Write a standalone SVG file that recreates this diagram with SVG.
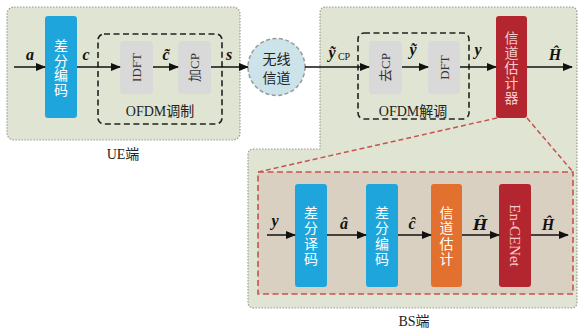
<svg xmlns="http://www.w3.org/2000/svg" width="579" height="330" viewBox="0 0 579 330">
<defs>
<marker id="ah" markerWidth="10" markerHeight="8" refX="9" refY="4" orient="auto" markerUnits="userSpaceOnUse">
<path d="M0,0 L10,4 L0,8 Z" fill="#111"/>
</marker>
<style>
.region{fill:#dfe5d2;stroke:#9a9a9a;stroke-width:1.2;stroke-dasharray:1.5,1.5}
.ofdm{fill:none;stroke:#222;stroke-width:1.6;stroke-dasharray:6,3.5}
.gray{fill:#d9d9d9}
.blue{fill:#1ea6dc}
.red{fill:#b3262f}
.orange{fill:#e2702e}
.arr{stroke:#111;stroke-width:1.5;fill:none;marker-end:url(#ah)}
.lbl{font-family:"Liberation Serif","Noto Sans CJK SC",serif;font-weight:bold;font-style:italic;font-size:16px;fill:#111;text-anchor:middle}
.cn{font-family:"Liberation Serif","Noto Sans CJK SC",serif;font-size:14px;text-anchor:middle}
.w{fill:#fff}
.pk{fill:#f5cccc}
.blk{fill:#222}
.rot{font-family:"Liberation Serif","Noto Sans CJK SC",serif;font-size:13px;text-anchor:middle;dominant-baseline:central;fill:#333}
.rd{stroke:#c9524f;stroke-width:1.5;stroke-dasharray:5,3;fill:none}
</style>
</defs>

<!-- regions -->
<g id="ue-region">
<rect class="region" x="7" y="7" width="233" height="133" rx="7"/>
<text class="cn blk" x="123" y="159">UE端</text>
</g>
<g id="bs-region">
<path class="region" d="M326,7 H571 Q577,7 577,13 V302 Q577,308 571,308 H254 Q248,308 248,302 V155 Q248,149 254,149 H320 V13 Q320,7 326,7 Z"/>
<text class="cn blk" x="414" y="326">BS端</text>
</g>

<!-- zoom lines and inner box -->
<g id="zoom-lines">
<line class="rd" x1="497" y1="118" x2="258" y2="172"/>
<line class="rd" x1="527" y1="118" x2="573" y2="172"/>
</g>
<g id="bs-detail">
<rect x="258" y="172" width="315" height="122" fill="#d9d0c1" stroke="#c9524f" stroke-width="1.6" stroke-dasharray="6,3.5"/>
</g>

<!-- OFDM dashed boxes -->
<g id="ofdm-mod">
<rect class="ofdm" x="98" y="34" width="124" height="90" rx="6"/>
<text class="cn blk" x="160" y="116" font-size="13">OFDM调制</text>
</g>
<g id="ofdm-demod">
<rect class="ofdm" x="358" y="33" width="111" height="86" rx="6"/>
<text class="cn blk" x="413" y="116" font-size="13">OFDM解调</text>
</g>

<!-- UE nodes -->
<g id="diff-enc-ue">
<rect class="blue" x="45" y="16" width="32" height="102" rx="3"/>
<text class="cn w" x="61" y="51">差</text>
<text class="cn w" x="61" y="65.5">分</text>
<text class="cn w" x="61" y="80">编</text>
<text class="cn w" x="61" y="94.5">码</text>
</g>
<g id="idft">
<rect class="gray" x="120" y="41" width="33" height="53" rx="4"/>
<text class="rot" transform="translate(136.5,67.5) rotate(-90)">IDFT</text>
</g>
<g id="add-cp">
<rect class="gray" x="178" y="41" width="33" height="53" rx="4"/>
<text class="rot" transform="translate(194.5,67.5) rotate(-90)">加CP</text>
</g>

<!-- channel -->
<g id="channel">
<circle cx="276.5" cy="67" r="28.5" fill="#cce3ea" stroke="#999" stroke-width="1.5" stroke-dasharray="4,2.5"/>
<text class="cn blk" x="276.5" y="64">无线</text>
<text class="cn blk" x="276.5" y="83">信道</text>
</g>

<!-- BS nodes -->
<g id="remove-cp">
<rect class="gray" x="369" y="41" width="33" height="53" rx="4"/>
<text class="rot" transform="translate(385.5,67.5) rotate(-90)">去CP</text>
</g>
<g id="dft">
<rect class="gray" x="428" y="41" width="32" height="53" rx="4"/>
<text class="rot" transform="translate(444,67.5) rotate(-90)">DFT</text>
</g>
<g id="channel-estimator">
<rect class="red" x="496" y="16" width="31" height="102" rx="3"/>
<text class="cn pk" x="511.5" y="43" font-size="13">信</text>
<text class="cn pk" x="511.5" y="58" font-size="13">道</text>
<text class="cn pk" x="511.5" y="73" font-size="13">估</text>
<text class="cn pk" x="511.5" y="88" font-size="13">计</text>
<text class="cn pk" x="511.5" y="103" font-size="13">器</text>
</g>

<g id="diff-dec">
<rect class="blue" x="295" y="184" width="32" height="103" rx="3"/>
<text class="cn w" x="311" y="217.5" font-size="15">差</text>
<text class="cn w" x="311" y="233" font-size="15">分</text>
<text class="cn w" x="311" y="248.5" font-size="15">译</text>
<text class="cn w" x="311" y="264" font-size="15">码</text>
</g>
<g id="diff-enc-bs">
<rect class="blue" x="366" y="184" width="32" height="103" rx="3"/>
<text class="cn w" x="382" y="217.5" font-size="15">差</text>
<text class="cn w" x="382" y="233" font-size="15">分</text>
<text class="cn w" x="382" y="248.5" font-size="15">编</text>
<text class="cn w" x="382" y="264" font-size="15">码</text>
</g>
<g id="ch-est">
<rect class="orange" x="431" y="184" width="31" height="103" rx="3"/>
<text class="cn w" x="446.5" y="217.5" font-size="15">信</text>
<text class="cn w" x="446.5" y="233" font-size="15">道</text>
<text class="cn w" x="446.5" y="248.5" font-size="15">估</text>
<text class="cn w" x="446.5" y="264" font-size="15">计</text>
</g>
<g id="en-cenet">
<rect class="red" x="499" y="184" width="32" height="103" rx="3"/>
<text class="rot" style="fill:#f5cccc;font-size:15px" transform="translate(515,235.5) rotate(90)">En-CENet</text>
</g>

<!-- connectors -->
<g id="connectors">
<line class="arr" x1="14" y1="67" x2="45" y2="67"/>
<line class="arr" x1="77" y1="67" x2="120" y2="67"/>
<line class="arr" x1="153" y1="67" x2="178" y2="67"/>
<line class="arr" x1="211" y1="67" x2="248" y2="67"/>
<line class="arr" x1="305" y1="67" x2="369" y2="67"/>
<line class="arr" x1="402" y1="67" x2="428" y2="67"/>
<line class="arr" x1="460" y1="67" x2="496" y2="67"/>
<line class="arr" x1="527" y1="67" x2="572" y2="67"/>
<line class="arr" x1="267" y1="235" x2="295" y2="235"/>
<line class="arr" x1="327" y1="235" x2="366" y2="235"/>
<line class="arr" x1="398" y1="235" x2="431" y2="235"/>
<line class="arr" x1="462" y1="235" x2="499" y2="235"/>
<line class="arr" x1="531" y1="235" x2="568" y2="235"/>
</g>

<!-- labels -->
<g id="labels">
<text class="lbl" x="30" y="60">a</text>
<text class="lbl" x="86" y="60">c</text>
<text class="lbl" x="166" y="60">c̃</text>
<text class="lbl" x="229" y="60">s</text>
<text class="lbl" x="332" y="58">ỹ</text>
<text x="344" y="60" font-family="Liberation Serif,serif" font-size="10" text-anchor="middle" fill="#111">CP</text>
<text class="lbl" x="413" y="55">ỹ</text>
<text class="lbl" x="478" y="55">y</text>
<text class="lbl" x="555" y="60">Ĥ</text>
<text class="lbl" x="275" y="226">y</text>
<text class="lbl" x="344" y="229">â</text>
<text class="lbl" x="412" y="229">ĉ</text>
<text class="lbl" x="480" y="230" style="font-family:'DejaVu Serif',serif;font-size:15px">H̑</text>
<text class="lbl" x="548" y="230">Ĥ</text>
</g>
</svg>
